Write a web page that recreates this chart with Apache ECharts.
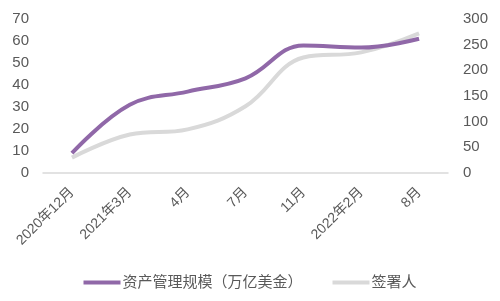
<!DOCTYPE html>
<html>
<head>
<meta charset="utf-8">
<script src="https://cdn.jsdelivr.net/npm/echarts@6/dist/echarts.min.js"></script>
<style>
  html, body { margin: 0; padding: 0; background: #fff; }
  #chart { width: 500px; height: 301px; }
</style>
</head>
<body>
<div id="chart"></div>
<script>
// Period labels along the x axis
const categories = ['2020年12月', '2021年3月', '4月', '7月', '11月', '2022年2月', '8月'];
// Assets under management (trillion USD), left axis
const aumValues = [9, 31, 37, 43, 58, 57, 61];
// Number of signatories, right axis
const signatoryValues = [30, 75, 85, 130, 225, 235, 272];

const seriesNames = ['资产管理规模（万亿美金）', '签署人'];
const leftTicks = { min: 0, max: 70, interval: 10 };
const rightTicks = { min: 0, max: 300, interval: 50 };

const FONT = '"Liberation Sans", Arial, "Noto Sans CJK SC", sans-serif';
const PURPLE = '#9068a8';
const GREY = '#d9d9d9';

const chart = echarts.init(document.getElementById('chart'), null, { renderer: 'canvas' });
chart.setOption({
  animation: false,
  textStyle: { fontFamily: FONT },
  grid: { left: 43, right: 52, top: 19, bottom: 128 },
  legend: {
    bottom: 6,
    left: 'center',
    itemWidth: 37,
    itemHeight: 4,
    itemGap: 30,
    icon: 'rect',
    textStyle: { fontSize: 15, color: '#595959', fontFamily: FONT, padding: [0, 0, 0, -3] },
    data: seriesNames
  },
  xAxis: {
    type: 'category',
    data: categories,
    boundaryGap: true,
    axisLine: { lineStyle: { color: GREY, width: 1.5 } },
    axisTick: { show: false },
    axisLabel: { rotate: 45, margin: 17, fontSize: 14, color: '#595959', interval: 0, fontFamily: FONT }
  },
  yAxis: [
    {
      type: 'value',
      min: leftTicks.min, max: leftTicks.max, interval: leftTicks.interval,
      axisLine: { show: false },
      axisTick: { show: false },
      splitLine: { show: false },
      axisLabel: { margin: 14, fontSize: 15, color: '#595959', fontFamily: FONT }
    },
    {
      type: 'value',
      min: rightTicks.min, max: rightTicks.max, interval: rightTicks.interval,
      axisLine: { show: false },
      axisTick: { show: false },
      splitLine: { show: false },
      axisLabel: { margin: 15, fontSize: 15, color: '#595959', fontFamily: FONT }
    }
  ],
  series: [
    {
      name: seriesNames[1],
      type: 'line',
      yAxisIndex: 1,
      data: signatoryValues,
      smooth: 0.4,
      showSymbol: false,
      symbol: 'none',
      itemStyle: { color: GREY },
      lineStyle: { color: GREY, width: 4 },
      z: 2
    },
    {
      name: seriesNames[0],
      type: 'line',
      yAxisIndex: 0,
      data: aumValues,
      smooth: 0.4,
      showSymbol: false,
      symbol: 'none',
      itemStyle: { color: PURPLE },
      lineStyle: { color: PURPLE, width: 4 },
      z: 3
    }
  ]
});
</script>
</body>
</html>
